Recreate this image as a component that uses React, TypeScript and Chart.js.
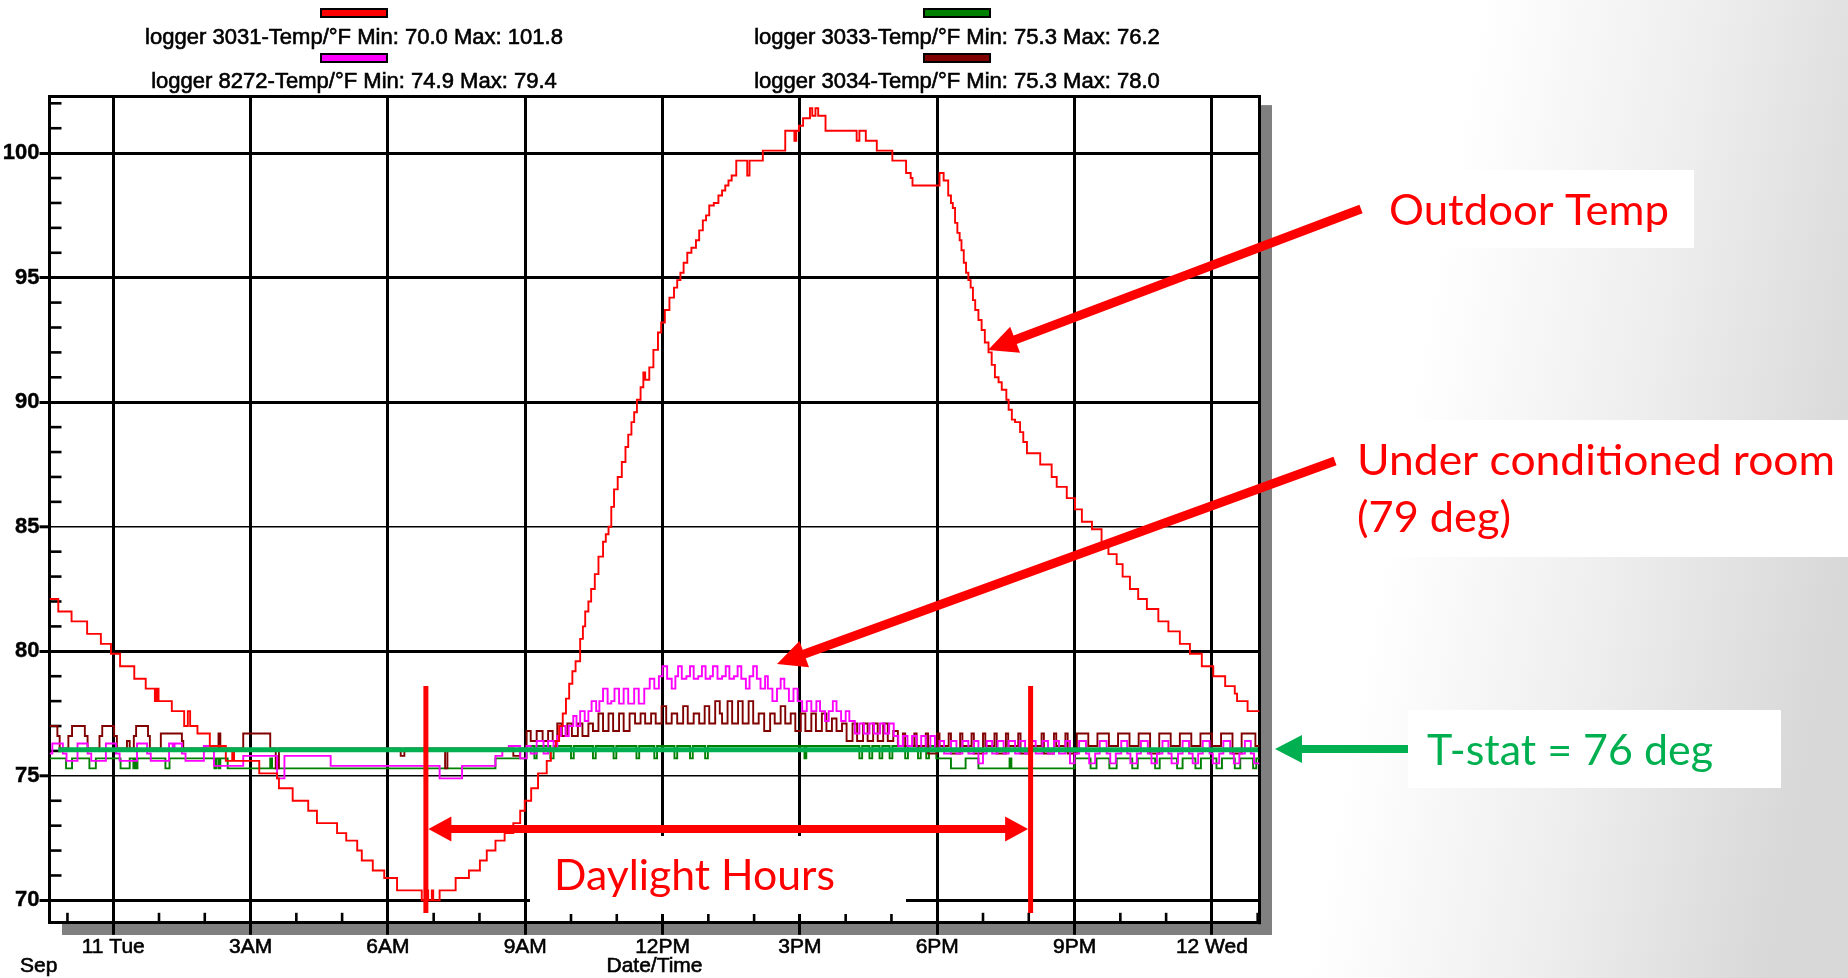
import React, { useEffect, useRef } from 'react';
import { Chart, registerables } from 'chart.js';

Chart.register(...registerables);

const W = 1848;
const H = 978;

// ---------------- data (hours since Sep 11 00:00, °F) ----------------
const loggerLabels = [
  'logger 3031-Temp/°F Min: 70.0 Max: 101.8',
  'logger 8272-Temp/°F Min: 74.9 Max: 79.4',
  'logger 3033-Temp/°F Min: 75.3 Max: 76.2',
  'logger 3034-Temp/°F Min: 75.3 Max: 78.0',
];
const loggerColors = ['#FF0000', '#FF00FF', '#008000', '#800000'];

const xTickHours = [0, 3, 6, 9, 12, 15, 18, 21, 24];
const xTickLabels = ['11 Tue', '3AM', '6AM', '9AM', '12PM', '3PM', '6PM', '9PM', '12 Wed'];
const yTickValues = [70, 75, 80, 85, 90, 95, 100];
const xAxisTitle = 'Date/Time';
const xAxisMonth = 'Sep';

const outdoor3031: [number, number][] = [
  [-1.39, 82.1], [-1.2, 81.6], [-0.91, 81.2], [-0.57, 80.7], [-0.27, 80.3], [-0.05, 79.9], [0.15, 79.4],
  [0.46, 78.9], [0.71, 78.5], [0.91, 78.0], [0.95, 78.5], [0.99, 78.0], [1.28, 77.6], [1.55, 77.0],
  [1.63, 77.6], [1.68, 77.0], [1.84, 76.7], [2.11, 76.2], [2.46, 75.6], [2.6, 76.0], [2.64, 75.6],
  [3.19, 75.1], [3.58, 74.9], [3.62, 74.5], [3.92, 74.0], [4.26, 73.6], [4.45, 73.1], [4.89, 72.7],
  [5.09, 72.4], [5.33, 72.0], [5.43, 71.6], [5.67, 71.2], [5.92, 70.9], [6.2, 70.4], [6.74, 70.0],
  [6.85, 70.4], [6.88, 70.0], [6.96, 70.4], [6.99, 70.0], [7.13, 70.4], [7.48, 70.9], [7.77, 71.2],
  [8.01, 71.6], [8.16, 72.0], [8.35, 72.4], [8.55, 72.7], [8.74, 73.1], [8.89, 73.6], [8.99, 74.0],
  [9.13, 74.5], [9.28, 75.1], [9.47, 75.6], [9.56, 76.0], [9.67, 76.4], [9.74, 77.0], [9.82, 77.5],
  [9.89, 78.1], [9.96, 78.7], [10.03, 79.2], [10.1, 79.6], [10.2, 80.5], [10.26, 81.0], [10.31, 81.6],
  [10.38, 82.0], [10.44, 82.5], [10.52, 83.1], [10.6, 83.8], [10.7, 84.4], [10.76, 84.7], [10.82, 85.0],
  [10.88, 85.8], [10.94, 86.5], [11.02, 87.0], [11.11, 87.6], [11.19, 88.2], [11.25, 88.7], [11.32, 89.2],
  [11.38, 89.6], [11.44, 90.1], [11.52, 90.6], [11.58, 91.2], [11.62, 90.9], [11.71, 91.4], [11.8, 92.1],
  [11.9, 92.8], [11.97, 93.2], [12.05, 93.7], [12.15, 94.2], [12.25, 94.6], [12.32, 94.9], [12.39, 95.2],
  [12.46, 95.6], [12.54, 96.0], [12.63, 96.2], [12.73, 96.5], [12.8, 96.9], [12.88, 97.3], [12.95, 97.5],
  [13.02, 97.9], [13.12, 98.0], [13.22, 98.3], [13.3, 98.5], [13.37, 98.7], [13.44, 98.9], [13.51, 99.1],
  [13.61, 99.7], [13.85, 99.1], [13.9, 99.7], [14.19, 100.1], [14.68, 100.9], [14.88, 100.5], [14.92, 100.9],
  [14.98, 101.1], [15.07, 101.4], [15.22, 101.8], [15.27, 101.5], [15.34, 101.8], [15.4, 101.5],
  [15.56, 100.9], [16.24, 100.5], [16.3, 100.9], [16.44, 100.5], [16.68, 100.1], [17.02, 99.7],
  [17.32, 99.2], [17.42, 99.0], [17.46, 98.7], [18.05, 99.2], [18.14, 98.9], [18.24, 98.3], [18.3, 98.0],
  [18.34, 97.8], [18.39, 97.2], [18.44, 96.8], [18.49, 96.5], [18.53, 96.1], [18.58, 95.6], [18.63, 95.2],
  [18.68, 94.9], [18.73, 94.6], [18.78, 94.1], [18.83, 93.7], [18.9, 93.3], [18.97, 92.9], [19.04, 92.4],
  [19.12, 92.0], [19.19, 91.5], [19.26, 91.0], [19.34, 90.8], [19.41, 90.5], [19.51, 90.1], [19.56, 89.7],
  [19.63, 89.3], [19.7, 89.2], [19.81, 88.8], [19.88, 88.4], [19.96, 87.95], [20.25, 87.5], [20.5, 87.0],
  [20.61, 86.6], [20.83, 86.15], [21.01, 85.7], [21.16, 85.2], [21.38, 84.9], [21.59, 84.3], [21.74, 83.9],
  [21.92, 83.5], [22.05, 83.0], [22.21, 82.5], [22.39, 82.1], [22.58, 81.7], [22.83, 81.2], [23.05, 80.8],
  [23.3, 80.3], [23.52, 79.9], [23.78, 79.4], [24.03, 79.0], [24.29, 78.6], [24.5, 78.3], [24.55, 78.0],
  [24.78, 77.6], [25.04, 77.6],
];

const room8272: [number, number][] = [
  [-1.39, 75.9], [-1.33, 76.3], [-1.1, 75.9], [-1.02, 75.6], [-0.78, 76.3], [-0.56, 75.9], [-0.48, 75.6],
  [-0.16, 76.3], [0.06, 75.9], [0.14, 75.6], [0.52, 76.3], [0.74, 75.9], [0.82, 75.6], [1.22, 76.3],
  [1.3, 76.0], [1.34, 76.3], [1.5, 75.9], [1.58, 75.6], [1.98, 76.2], [2.2, 75.4], [2.84, 75.8],
  [3.58, 74.9], [3.74, 75.8], [4.75, 75.4], [7.13, 74.9], [7.62, 75.4], [8.35, 75.8], [8.5, 76.0],
  [8.64, 76.2], [8.89, 75.7], [9.03, 76.2], [9.12, 75.9], [9.25, 76.4], [9.4, 75.9], [9.5, 76.4],
  [9.62, 76.0], [9.7, 76.6], [9.78, 77.0], [9.88, 76.6], [9.95, 77.0], [10.05, 77.4], [10.12, 77.0],
  [10.2, 77.6], [10.3, 77.2], [10.38, 77.6], [10.45, 78.0], [10.55, 77.6], [10.62, 78.0], [10.7, 78.5],
  [10.8, 77.9], [10.88, 78.0], [10.95, 78.5], [11.05, 77.9], [11.15, 78.5], [11.25, 77.9], [11.38, 78.5],
  [11.48, 77.9], [11.6, 78.5], [11.72, 78.9], [11.82, 78.5], [11.92, 79.0], [12.0, 79.4], [12.1, 78.9],
  [12.2, 78.5], [12.28, 79.0], [12.34, 79.4], [12.42, 78.9], [12.52, 79.0], [12.6, 79.4], [12.68, 78.9],
  [12.78, 79.0], [12.86, 79.4], [12.94, 78.9], [13.04, 79.0], [13.1, 79.4], [13.2, 78.9], [13.3, 79.0],
  [13.38, 79.4], [13.46, 78.9], [13.56, 79.0], [13.64, 79.4], [13.72, 78.9], [13.82, 78.5], [13.9, 79.0],
  [13.98, 79.4], [14.06, 78.9], [14.14, 78.5], [14.24, 79.0], [14.3, 78.5], [14.4, 78.0], [14.5, 78.5],
  [14.58, 78.9], [14.66, 78.5], [14.76, 78.0], [14.86, 78.5], [14.95, 78.0], [15.05, 77.6], [15.15, 78.0],
  [15.25, 77.6], [15.36, 78.0], [15.44, 77.6], [15.55, 77.2], [15.63, 77.6], [15.72, 78.0], [15.8, 77.6],
  [15.9, 77.2], [16.0, 77.6], [16.08, 77.2], [16.2, 76.7], [16.3, 77.1], [16.4, 76.7], [16.52, 77.1],
  [16.62, 76.7], [16.75, 77.1], [16.85, 76.7], [16.95, 77.1], [17.05, 76.6], [17.15, 76.2], [17.25, 76.6],
  [17.35, 76.2], [17.45, 76.6], [17.55, 76.0], [17.65, 76.6], [17.75, 76.0], [17.85, 76.6], [17.95, 76.0],
  [18.05, 76.4], [18.15, 75.9], [18.3, 76.4], [18.42, 75.9], [18.55, 76.4], [18.68, 75.9], [18.8, 76.4],
  [18.9, 75.5], [19.0, 75.9], [19.08, 76.4], [19.2, 75.9], [19.32, 76.4], [19.45, 75.9], [19.56, 76.4],
  [19.7, 75.9], [19.8, 76.4], [19.92, 75.9], [20.05, 76.4], [20.15, 75.9], [20.3, 76.4], [20.42, 75.9],
  [20.55, 76.4], [20.66, 75.9], [20.8, 76.4], [20.9, 75.5], [21.0, 75.9], [21.1, 76.4], [21.25, 75.9],
  [21.32, 75.5], [21.45, 75.9], [21.55, 76.4], [21.7, 75.9], [21.78, 75.5], [21.9, 75.9], [22.02, 76.4],
  [22.15, 75.9], [22.22, 75.5], [22.36, 75.9], [22.45, 76.4], [22.6, 75.9], [22.68, 75.5], [22.8, 75.9],
  [22.92, 76.4], [23.05, 75.9], [23.12, 75.5], [23.26, 75.9], [23.36, 76.4], [23.5, 75.9], [23.58, 75.5],
  [23.7, 75.9], [23.8, 76.4], [23.95, 75.9], [24.02, 75.5], [24.16, 75.9], [24.25, 76.4], [24.4, 75.9],
  [24.48, 75.5], [24.6, 75.9], [24.72, 76.4], [24.85, 75.9], [24.92, 75.5], [25.04, 75.5],
];

const room3033: [number, number][] = [
  [-1.39, 75.7], [-1.03, 75.3], [-0.9, 75.7], [-0.52, 75.3], [-0.38, 75.7], [0.16, 75.3], [0.36, 75.7],
  [0.44, 75.3], [0.47, 75.7], [0.5, 75.3], [0.53, 75.7], [1.14, 75.3], [1.23, 75.7], [2.21, 75.3],
  [2.25, 75.7], [2.3, 75.3], [2.34, 75.7], [2.5, 75.3], [3.43, 75.7], [3.47, 75.3], [8.35, 75.7],
  [9.03, 76.2], [9.2, 75.7], [9.25, 76.2], [9.55, 75.7], [9.62, 76.2], [10.0, 75.7], [10.06, 76.2],
  [10.48, 75.7], [10.54, 76.2], [10.93, 75.7], [10.99, 76.2], [11.43, 75.7], [11.49, 76.2], [11.82, 75.7],
  [11.88, 76.2], [12.26, 75.7], [12.32, 76.2], [12.6, 75.7], [12.66, 76.2], [12.93, 75.7], [12.99, 76.2],
  [15.1, 75.7], [15.14, 76.2], [16.3, 75.7], [16.36, 76.2], [16.52, 75.7], [16.58, 76.2], [16.74, 75.7],
  [16.8, 76.2], [16.96, 75.7], [17.02, 76.2], [17.3, 75.7], [17.36, 76.2], [17.58, 75.7], [17.64, 76.2],
  [17.76, 75.7], [17.82, 76.2], [17.98, 75.7], [18.3, 75.3], [18.62, 75.7], [18.9, 75.3], [19.58, 75.7],
  [19.62, 75.3], [21.0, 75.7], [21.35, 75.3], [21.48, 75.7], [21.76, 75.3], [21.92, 75.7], [22.26, 75.3],
  [22.38, 75.7], [22.76, 75.3], [22.86, 75.7], [23.24, 75.3], [23.36, 75.7], [23.64, 75.3], [23.76, 75.7],
  [24.1, 75.3], [24.22, 75.7], [24.5, 75.3], [24.62, 75.7], [24.9, 75.3], [24.97, 75.7], [25.04, 75.7],
];

const room3034: [number, number][] = [
  [-1.39, 77.0], [-1.22, 76.6], [-1.17, 76.1], [-0.98, 76.6], [-0.9, 77.0], [-0.62, 76.6], [-0.56, 76.1],
  [-0.3, 76.6], [-0.24, 77.0], [0.02, 76.6], [0.08, 76.1], [0.3, 76.4], [0.36, 76.1], [0.45, 76.6],
  [0.5, 77.0], [0.76, 76.6], [0.8, 76.1], [1.04, 76.7], [1.5, 76.4], [1.53, 76.1], [2.3, 76.7],
  [2.34, 76.1], [2.84, 76.7], [3.43, 76.1], [3.55, 75.3], [3.62, 76.1], [6.28, 75.8], [6.36, 76.1],
  [7.25, 75.3], [7.3, 76.1], [8.74, 75.8], [8.89, 76.1], [9.03, 76.8], [9.12, 76.4], [9.25, 76.8],
  [9.38, 76.4], [9.5, 76.8], [9.6, 76.4], [9.7, 77.1], [9.8, 76.6], [9.92, 77.1], [10.02, 76.6],
  [10.15, 77.1], [10.25, 76.6], [10.38, 77.1], [10.48, 76.8], [10.6, 77.5], [10.7, 76.8], [10.82, 77.5],
  [10.92, 76.8], [11.05, 77.5], [11.15, 76.8], [11.28, 77.5], [11.4, 77.1], [11.52, 77.5], [11.62, 77.1],
  [11.75, 77.5], [11.85, 77.1], [11.98, 77.8], [12.08, 77.1], [12.2, 77.5], [12.32, 77.1], [12.45, 77.8],
  [12.55, 77.1], [12.68, 77.5], [12.8, 77.1], [12.92, 77.8], [13.02, 77.1], [13.15, 78.0], [13.25, 77.5],
  [13.3, 77.1], [13.42, 78.0], [13.52, 77.1], [13.65, 78.0], [13.75, 77.1], [13.88, 78.0], [13.98, 77.1],
  [14.1, 77.5], [14.22, 76.8], [14.35, 77.5], [14.45, 77.1], [14.58, 77.8], [14.68, 77.1], [14.8, 77.5],
  [14.9, 76.8], [15.02, 77.5], [15.12, 76.8], [15.25, 77.5], [15.35, 76.8], [15.48, 77.5], [15.58, 76.8],
  [15.7, 77.3], [15.8, 76.8], [15.92, 77.1], [16.02, 76.4], [16.15, 77.1], [16.25, 76.4], [16.38, 77.1],
  [16.48, 76.4], [16.6, 77.1], [16.7, 76.4], [16.82, 77.1], [16.92, 76.4], [17.04, 76.8], [17.14, 76.2],
  [17.25, 76.7], [17.3, 76.2], [17.5, 76.7], [17.55, 76.2], [17.75, 76.7], [17.8, 75.9], [18.0, 76.7],
  [18.05, 76.2], [18.25, 76.7], [18.3, 75.9], [18.5, 76.7], [18.55, 76.2], [18.75, 76.7], [18.8, 75.9],
  [19.0, 76.7], [19.05, 76.2], [19.25, 76.7], [19.3, 75.9], [19.5, 76.7], [19.55, 76.2], [19.77, 76.7],
  [19.82, 75.9], [20.02, 76.7], [20.07, 76.2], [20.28, 76.7], [20.33, 75.9], [20.55, 76.7], [20.6, 76.2],
  [20.8, 76.7], [20.85, 75.9], [21.05, 76.7], [21.3, 76.2], [21.5, 76.7], [21.75, 76.2], [21.95, 76.7],
  [22.2, 76.2], [22.4, 76.7], [22.65, 75.9], [22.85, 76.7], [23.1, 76.2], [23.3, 76.7], [23.55, 76.2],
  [23.75, 76.7], [24.0, 76.2], [24.2, 76.7], [24.45, 75.9], [24.65, 76.7], [24.95, 76.2], [25.04, 76.2],
];

const loggerSeries = [outdoor3031, room8272, room3033, room3034];
const drawOrder = [1, 2, 4, 3];

// annotation values (data units)
const TSTAT_VALUE = 76.05;
const TSTAT_FROM = -1.2;
const DAYLIGHT_START = 6.83;
const DAYLIGHT_END = 20.04;
const DAYLIGHT_TOP = 78.61;
const DAYLIGHT_BOTTOM = 69.49;
const DAYLIGHT_ARROW_VALUE = 72.87;

// ---------------- layout / style ----------------
const X_MIN = -1.392;
const X_MAX = 25.04;
const Y_MIN = 69.1;
const Y_MAX = 102.27;
const PLOT_LEFT = 49.5;
const PLOT_TOP = 96.6;
const PLOT_RIGHT = 1259.5;
const PLOT_BOTTOM = 922.8;

const AXIS_FONT = '"Liberation Sans", Arial, sans-serif';
const NOTE_FONT = 'Lato, "Noto Sans", sans-serif';
const NOTE_RED = '#FF0000';
const NOTE_GREEN = '#00B050';

const noteBoxes = [
  { x: 1367, y: 170, w: 327, h: 78 },
  { x: 1338, y: 420, w: 510, h: 137 },
  { x: 1408, y: 710, w: 373, h: 78 },
  { x: 530, y: 836, w: 376, h: 78 },
];
const noteTexts = [
  { text: 'Outdoor Temp', x: 1389, y: 225, w: 280, color: NOTE_RED },
  { text: 'Under conditioned room', x: 1357, y: 475, w: 478, color: NOTE_RED },
  { text: '(79 deg)', x: 1357, y: 532, w: 154, color: NOTE_RED },
  { text: 'T-stat = 76 deg', x: 1427, y: 765, w: 286, color: NOTE_GREEN },
  { text: 'Daylight Hours', x: 554, y: 890, w: 281, color: NOTE_RED },
];
const noteArrows = [
  { x1: 1361, y1: 209, x2: 988, y2: 350, shaft: 9, head: 29, half: 14, color: NOTE_RED },
  { x1: 1335, y1: 461, x2: 777, y2: 664, shaft: 9, head: 29, half: 14, color: NOTE_RED },
  { x1: 1408, y1: 749, x2: 1275, y2: 749, shaft: 8, head: 27, half: 14, color: NOTE_GREEN },
];

function drawArrowHead(ctx: CanvasRenderingContext2D, tipX: number, tipY: number, ux: number, uy: number, head: number, half: number) {
  const bx = tipX - ux * head;
  const by = tipY - uy * head;
  ctx.beginPath();
  ctx.moveTo(tipX, tipY);
  ctx.lineTo(bx - uy * half, by + ux * half);
  ctx.lineTo(bx + uy * half, by - ux * half);
  ctx.closePath();
  ctx.fill();
}

function drawArrow(ctx: CanvasRenderingContext2D, a: any) {
  const dx = a.x2 - a.x1;
  const dy = a.y2 - a.y1;
  const len = Math.hypot(dx, dy);
  const ux = dx / len;
  const uy = dy / len;
  ctx.save();
  ctx.strokeStyle = a.color;
  ctx.fillStyle = a.color;
  ctx.lineWidth = a.shaft;
  ctx.lineCap = 'butt';
  ctx.beginPath();
  ctx.moveTo(a.x1, a.y1);
  ctx.lineTo(a.x2 - ux * (a.head - 2), a.y2 - uy * (a.head - 2));
  ctx.stroke();
  drawArrowHead(ctx, a.x2, a.y2, ux, uy, a.head, a.half);
  ctx.restore();
}

function fitText(
  ctx: CanvasRenderingContext2D, text: string, x: number, y: number, w: number,
  font: string, color: string, align: 'left' | 'center' = 'left', stroke = 0,
) {
  ctx.save();
  ctx.font = font;
  ctx.fillStyle = color;
  ctx.textBaseline = 'alphabetic';
  ctx.textAlign = 'left';
  const mw = ctx.measureText(text).width;
  const s = w / mw;
  const left = align === 'center' ? x - w / 2 : x;
  ctx.translate(left, y);
  ctx.scale(s, 1);
  ctx.fillText(text, 0, 0);
  if (stroke > 0) {
    ctx.strokeStyle = color;
    ctx.lineWidth = stroke;
    ctx.strokeText(text, 0, 0);
  }
  ctx.restore();
}

const decorPlugin = {
  id: 'decor',
  beforeDraw(chart: any) {
    const ctx: CanvasRenderingContext2D = chart.ctx;
    const { left, top, right, bottom } = chart.chartArea;
    ctx.save();
    ctx.fillStyle = '#ffffff';
    ctx.fillRect(0, 0, W, H);
    const g = ctx.createLinearGradient(1290, 420, 1848, 520);
    g.addColorStop(0, '#ffffff');
    g.addColorStop(0.2, '#ffffff');
    g.addColorStop(0.6, '#eeeeee');
    g.addColorStop(1, '#d8d8d8');
    ctx.fillStyle = g;
    ctx.fillRect(0, 0, W, H);
    // plot shadow
    ctx.fillStyle = '#808080';
    ctx.fillRect(left + 12.5, top + 8.5, right - left, bottom - top + 3.7);
    ctx.fillStyle = '#ffffff';
    ctx.fillRect(left, top, right - left, bottom - top);
    ctx.restore();
  },
  beforeDatasetsDraw(chart: any) {
    const ctx: CanvasRenderingContext2D = chart.ctx;
    const { left, top, right, bottom } = chart.chartArea;
    const xs = chart.scales.x;
    const ys = chart.scales.y;
    ctx.save();
    ctx.strokeStyle = '#000';
    ctx.lineWidth = 3;
    ctx.beginPath();
    ctx.moveTo(left - 1.5, top);
    ctx.lineTo(right, top);
    ctx.lineTo(right, bottom + 1.5);
    ctx.stroke();
    // minor y ticks (every 1 °F)
    ctx.lineWidth = 2.6;
    for (let v = Math.ceil(Y_MIN); v <= Math.floor(Y_MAX); v++) {
      if (v % 5 === 0) continue;
      const y = ys.getPixelForValue(v);
      ctx.beginPath();
      ctx.moveTo(left, y);
      ctx.lineTo(left + 12, y);
      ctx.stroke();
    }
    // minor x ticks (hourly)
    for (let h = Math.ceil(X_MIN); h <= Math.floor(X_MAX); h++) {
      if (h % 3 === 0) continue;
      const x = xs.getPixelForValue(h);
      ctx.beginPath();
      ctx.moveTo(x, bottom);
      ctx.lineTo(x, bottom - 10);
      ctx.stroke();
    }
    ctx.restore();
  },
  afterDatasetsDraw(chart: any) {
    const ctx: CanvasRenderingContext2D = chart.ctx;
    const xs = chart.scales.x;
    const ys = chart.scales.y;
    ctx.save();
    ctx.strokeStyle = NOTE_GREEN;
    ctx.lineWidth = 5;
    const y = ys.getPixelForValue(TSTAT_VALUE);
    ctx.beginPath();
    ctx.moveTo(xs.getPixelForValue(TSTAT_FROM), y);
    ctx.lineTo(xs.getPixelForValue(X_MAX) - 1.5, y);
    ctx.stroke();
    ctx.restore();
  },
  afterDraw(chart: any) {
    const ctx: CanvasRenderingContext2D = chart.ctx;
    const xs = chart.scales.x;
    const ys = chart.scales.y;
    const { left, right } = chart.chartArea;
    ctx.save();
    // white note boxes
    ctx.fillStyle = '#ffffff';
    noteBoxes.forEach((b) => ctx.fillRect(b.x, b.y, b.w, b.h));
    // note texts
    noteTexts.forEach((t) => fitText(ctx, t.text, t.x, t.y, t.w, `42px ${NOTE_FONT}`, t.color));
    // daylight markers
    ctx.strokeStyle = NOTE_RED;
    ctx.fillStyle = NOTE_RED;
    ctx.lineWidth = 5;
    [DAYLIGHT_START, DAYLIGHT_END].forEach((h) => {
      const x = xs.getPixelForValue(h);
      ctx.beginPath();
      ctx.moveTo(x, ys.getPixelForValue(DAYLIGHT_TOP));
      ctx.lineTo(x, ys.getPixelForValue(DAYLIGHT_BOTTOM));
      ctx.stroke();
    });
    const ay = ys.getPixelForValue(DAYLIGHT_ARROW_VALUE);
    const ax1 = xs.getPixelForValue(DAYLIGHT_START) + 2.5;
    const ax2 = xs.getPixelForValue(DAYLIGHT_END) - 2.5;
    ctx.lineWidth = 8;
    ctx.beginPath();
    ctx.moveTo(ax1 + 20, ay);
    ctx.lineTo(ax2 - 20, ay);
    ctx.stroke();
    drawArrowHead(ctx, ax1, ay, -1, 0, 23, 12.5);
    drawArrowHead(ctx, ax2, ay, 1, 0, 23, 12.5);
    // callout arrows
    noteArrows.forEach((a) => drawArrow(ctx, a));
    // legend
    const cols = [354, 957];
    const swatchY = [9, 54];
    const textY = [44, 88];
    const legendFont = `22px ${AXIS_FONT}`;
    ctx.font = legendFont;
    const legendScale = 418 / ctx.measureText(loggerLabels[0]).width;
    chart.data.datasets.forEach((ds: any, i: number) => {
      const cx = cols[Math.floor(i / 2)];
      const row = i % 2;
      ctx.fillStyle = ds.borderColor;
      ctx.fillRect(cx - 33, swatchY[row], 66, 8);
      ctx.strokeStyle = '#000';
      ctx.lineWidth = 2;
      ctx.strokeRect(cx - 33, swatchY[row], 66, 8);
      ctx.font = legendFont;
      const w = ctx.measureText(ds.label).width * legendScale;
      fitText(ctx, ds.label, cx, textY[row], w, legendFont, '#000', 'center', 0.6);
    });
    // axis title and month label under the time axis
    ctx.fillStyle = '#000';
    ctx.strokeStyle = '#000';
    ctx.lineWidth = 0.6;
    ctx.font = `21px ${AXIS_FONT}`;
    ctx.textBaseline = 'middle';
    ctx.textAlign = 'left';
    ctx.fillText(xAxisMonth, 20, 966);
    ctx.strokeText(xAxisMonth, 20, 966);
    ctx.textAlign = 'center';
    const cx = (left + right) / 2;
    ctx.fillText(xAxisTitle, cx, 966);
    ctx.strokeText(xAxisTitle, cx, 966);
    ctx.restore();
  },
};

export default function App() {
  const canvasRef = useRef<HTMLCanvasElement | null>(null);

  useEffect(() => {
    document.body.style.margin = '0';
    const canvas = canvasRef.current;
    if (!canvas) return;
    const chart = new Chart(canvas, {
      type: 'line',
      data: {
        datasets: loggerSeries.map((s, i) => ({
          label: loggerLabels[i],
          data: s.map(([x, y]) => ({ x, y })),
          borderColor: loggerColors[i],
          backgroundColor: loggerColors[i],
          borderWidth: 1.9,
          pointRadius: 0,
          stepped: 'before',
          fill: false,
          order: drawOrder[i],
        })),
      },
      options: {
        responsive: false,
        animation: false,
        devicePixelRatio: 1,
        events: [],
        layout: { padding: { left: 0, top: PLOT_TOP, right: W - PLOT_RIGHT, bottom: 0 } },
        plugins: {
          legend: { display: false },
          tooltip: { enabled: false },
          title: { display: false },
        },
        scales: {
          x: {
            type: 'linear',
            min: X_MIN,
            max: X_MAX,
            afterBuildTicks: (axis: any) => {
              axis.ticks = xTickHours.map((v) => ({ value: v }));
            },
            afterFit: (axis: any) => {
              axis.height = H - PLOT_BOTTOM;
            },
            grid: { color: '#000', lineWidth: 3, tickLength: 12, tickWidth: 3, tickColor: '#000' },
            border: { display: true, color: '#000', width: 3 },
            ticks: {
              autoSkip: false,
              maxRotation: 0,
              minRotation: 0,
              padding: 0,
              color: '#000',
              textStrokeColor: '#000',
              textStrokeWidth: 0.6,
              font: { family: AXIS_FONT, size: 21 },
              callback: (value: any) => {
                const i = xTickHours.indexOf(Number(value));
                return i >= 0 ? xTickLabels[i] : '';
              },
            },
            title: { display: false },
          },
          y: {
            type: 'linear',
            min: Y_MIN,
            max: Y_MAX,
            afterBuildTicks: (axis: any) => {
              axis.ticks = yTickValues.map((v) => ({ value: v }));
            },
            afterFit: (axis: any) => {
              axis.width = PLOT_LEFT;
            },
            grid: {
              color: '#000',
              lineWidth: (c: any) => (c.tick && (c.tick.value === 75 || c.tick.value === 85) ? 1.6 : 3),
              tickLength: 10,
              tickWidth: 3,
              tickColor: '#000',
            },
            border: { display: true, color: '#000', width: 3 },
            ticks: {
              padding: 0,
              color: '#000',
              textStrokeColor: '#000',
              textStrokeWidth: 0.4,
              font: { family: AXIS_FONT, size: 22, weight: 'bold' },
              callback: (value: any) => String(value),
            },
          },
        },
      },
      plugins: [decorPlugin],
    } as any);
    return () => chart.destroy();
  }, []);

  return (
    <div style={{ position: 'fixed', left: 0, top: 0, width: W, height: H, background: '#fff' }}>
      <canvas ref={canvasRef} width={W} height={H} style={{ display: 'block', width: W, height: H }} />
    </div>
  );
}
